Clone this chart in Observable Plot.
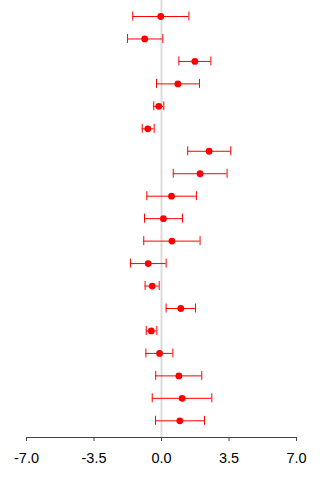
<!DOCTYPE html>
<html>
<head>
<meta charset="utf-8">
<script src="https://cdn.jsdelivr.net/npm/d3@7"></script>
<script src="https://cdn.jsdelivr.net/npm/@observablehq/plot@0.6"></script>
<style>
  html, body { margin: 0; padding: 0; background: #fff; }
</style>
</head>
<body>
<div id="chart"></div>
<script>
// Forest plot: one row per study, point estimate with confidence interval
const study = ["S1", "S2", "S3", "S4", "S5", "S6", "S7", "S8", "S9", "S10",
               "S11", "S12", "S13", "S14", "S15", "S16", "S17", "S18", "S19"];
const estimate = [-0.04, -0.87, 1.73, 0.85, -0.14, -0.71, 2.47, 2.00, 0.52, 0.10,
                  0.54, -0.69, -0.48, 1.00, -0.53, -0.10, 0.90, 1.07, 0.95];
const lower = [-1.49, -1.76, 0.90, -0.26, -0.40, -1.00, 1.36, 0.61, -0.76, -0.88,
               -0.92, -1.61, -0.85, 0.24, -0.79, -0.81, -0.30, -0.48, -0.31];
const upper = [1.42, 0.07, 2.56, 1.97, 0.12, -0.38, 3.59, 3.40, 1.81, 1.09,
               2.00, 0.24, -0.12, 1.76, -0.24, 0.59, 2.09, 2.61, 2.23];
const xTicks = [-7, -3.5, 0, 3.5, 7];

const data = study.map((s, i) => ({study: s, est: estimate[i], lo: lower[i], hi: upper[i]}));

const chart = Plot.plot({
  width: 320,
  height: 480,
  marginLeft: 26,
  marginRight: 24,
  marginTop: 0,
  marginBottom: 43,
  style: {fontFamily: "'Liberation Sans', Arial, sans-serif", fontSize: "14.5px", background: "#fff", color: "#000"},
  x: {domain: [-7, 7]},
  y: {type: "band", domain: study, range: [4.77, 431.53], paddingInner: 0.6, paddingOuter: 0.3, round: false, axis: null},
  marks: [
    Plot.ruleX([0], {stroke: "#dcdcdc", strokeWidth: 2}),
    Plot.frame({anchor: "bottom", stroke: "#444"}),
    Plot.axisX(xTicks, {tickSize: 4, tickPadding: 11, tickFormat: d => d.toFixed(1), stroke: "#444", fill: "#000"}),
    Plot.ruleY(data, {y: "study", x1: "lo", x2: "hi", stroke: "red"}),
    Plot.tickX(data, {y: "study", x: "lo", stroke: "red"}),
    Plot.tickX(data, {y: "study", x: "hi", stroke: "red"}),
    Plot.dot(data, {y: "study", x: "est", r: 3.4, fill: "red"})
  ]
});

document.getElementById("chart").appendChild(chart);
</script>
</body>
</html>
